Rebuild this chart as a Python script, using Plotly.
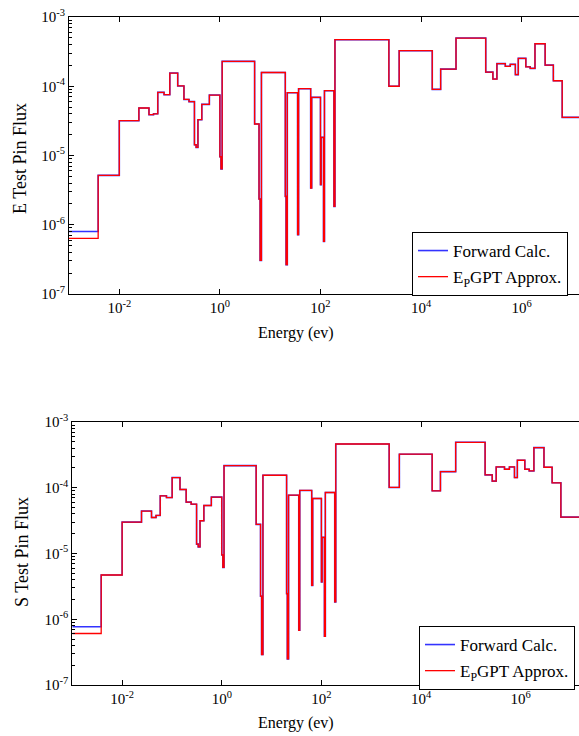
import plotly.graph_objects as go

# Energy group boundaries (eV)
energy_bounds = [1e-3, 3.8e-3, 1e-2, 0.0245, 0.0389, 0.0479, 0.0582, 0.0776, 0.101, 0.145,
                 0.193, 0.243, 0.312, 0.337, 0.366, 0.437, 0.618, 1.0, 1.05, 1.11,
                 4.9, 6.0, 6.3, 6.7, 20.0, 20.7, 21.9, 35.1, 36.7, 63.8,
                 66.8, 100, 103, 115, 120, 185, 194, 2290, 3670, 16700,
                 24500, 49500, 1.93e5, 2.68e5, 3.22e5, 4.73e5, 5.93e5, 7.5e5, 8.57e5, 1.21e6,
                 1.48e6, 1.84e6, 2.93e6, 4.27e6, 6.4e6, 2e7]

# E test pin flux per group
e_forward = [8.0e-7, 5.16e-6, 3.18e-5, 4.85e-5, 3.88e-5, 4.0e-5, 8.15e-5, 7.55e-5, 1.55e-4, 1.01e-4,
             6.45e-5, 6.0e-5, 1.43e-5, 1.31e-5, 3.29e-5, 5.47e-5, 7.46e-5, 9.6e-6, 6.4e-6, 2.29e-4,
             2.85e-5, 2.35e-6, 3.06e-7, 1.58e-4, 2.57e-6, 2.65e-7, 8.07e-5, 7.2e-7, 9.22e-5, 3.39e-6,
             6.9e-5, 3.79e-6, 1.83e-5, 5.75e-7, 8.63e-5, 1.84e-6, 4.7e-4, 1.0e-4, 3.26e-4, 9.0e-5,
             1.77e-4, 4.97e-4, 1.6e-4, 1.27e-4, 2.12e-4, 1.94e-4, 2.07e-4, 1.47e-4, 2.53e-4, 1.91e-4,
             1.81e-4, 4.11e-4, 2.02e-4, 1.2e-4, 3.55e-5]
e_gpt = [6.35e-7, 5.16e-6, 3.18e-5, 4.85e-5, 3.88e-5, 4.0e-5, 8.15e-5, 7.55e-5, 1.55e-4, 1.01e-4,
         6.45e-5, 6.0e-5, 1.43e-5, 1.31e-5, 3.29e-5, 5.47e-5, 7.46e-5, 9.6e-6, 6.4e-6, 2.29e-4,
         2.85e-5, 2.35e-6, 3.06e-7, 1.58e-4, 2.57e-6, 2.65e-7, 8.07e-5, 7.2e-7, 9.22e-5, 3.39e-6,
         6.9e-5, 3.79e-6, 1.83e-5, 5.75e-7, 8.63e-5, 1.84e-6, 4.7e-4, 1.0e-4, 3.26e-4, 9.0e-5,
         1.77e-4, 4.97e-4, 1.6e-4, 1.27e-4, 2.12e-4, 1.94e-4, 2.07e-4, 1.47e-4, 2.53e-4, 1.91e-4,
         1.81e-4, 4.11e-4, 2.02e-4, 1.2e-4, 3.55e-5]

# S test pin flux per group
s_forward = [7.67e-7, 4.71e-6, 3.0e-5, 4.42e-5, 3.53e-5, 3.79e-5, 7.54e-5, 7.1e-5, 1.43e-4, 9.4e-5,
             6.04e-5, 5.62e-5, 1.39e-5, 1.26e-5, 3.15e-5, 5.37e-5, 7.19e-5, 9.5e-6, 6.15e-6, 2.17e-4,
             2.77e-5, 2.24e-6, 2.91e-7, 1.55e-4, 2.45e-6, 2.5e-7, 7.7e-5, 6.8e-7, 9.1e-5, 3.28e-6,
             6.86e-5, 3.7e-6, 1.76e-5, 5.5e-7, 8.47e-5, 1.84e-6, 4.63e-4, 1.01e-4, 3.24e-4, 8.98e-5,
             1.76e-4, 4.91e-4, 1.57e-4, 1.26e-4, 2.07e-4, 1.91e-4, 2.07e-4, 1.43e-4, 2.62e-4, 1.91e-4,
             1.8e-4, 4.07e-4, 2.05e-4, 1.19e-4, 3.58e-5]
s_gpt = [6.07e-7, 4.71e-6, 3.0e-5, 4.42e-5, 3.53e-5, 3.79e-5, 7.54e-5, 7.1e-5, 1.43e-4, 9.4e-5,
         6.04e-5, 5.62e-5, 1.39e-5, 1.26e-5, 3.15e-5, 5.37e-5, 7.19e-5, 9.5e-6, 6.15e-6, 2.17e-4,
         2.77e-5, 2.24e-6, 2.91e-7, 1.55e-4, 2.45e-6, 2.5e-7, 7.7e-5, 6.8e-7, 9.1e-5, 3.28e-6,
         6.86e-5, 3.7e-6, 1.76e-5, 5.5e-7, 8.47e-5, 1.84e-6, 4.63e-4, 1.01e-4, 3.24e-4, 8.98e-5,
         1.76e-4, 4.91e-4, 1.57e-4, 1.26e-4, 2.07e-4, 1.91e-4, 2.07e-4, 1.43e-4, 2.62e-4, 1.91e-4,
         1.8e-4, 4.07e-4, 2.05e-4, 1.19e-4, 3.58e-5]

x_tickvals = [1e-2, 1e0, 1e2, 1e4, 1e6]
x_ticktext = ["10<sup>-2</sup>", "10<sup>0</sup>", "10<sup>2</sup>", "10<sup>4</sup>", "10<sup>6</sup>"]
y_tickvals = [1e-7, 1e-6, 1e-5, 1e-4, 1e-3]
y_ticktext = ["10<sup>-7</sup>", "10<sup>-6</sup>", "10<sup>-5</sup>", "10<sup>-4</sup>", "10<sup>-3</sup>"]
y_minor = [m * 10.0 ** p for p in range(-7, -3) for m in range(2, 10)]

series_names = ["Forward Calc.", "E<sub>P</sub>GPT Approx."]

FONT = "Liberation Serif, Times New Roman, serif"
W, H = 579, 736
ML, MR, MT, MB = 69, 0, 17, 51
PW, PH = W - ML - MR, H - MT - MB


def px_x(px):
    return (px - ML) / PW


def px_y(py):
    return (H - MB - py) / PH


def steps(vals):
    return list(vals) + [vals[-1]]


fig = go.Figure()
panels = [("x", "y", "legend", e_forward, e_gpt), ("x2", "y2", "legend2", s_forward, s_gpt)]
for xa, ya, lg, fwd, gpt in panels:
    fig.add_trace(go.Scatter(x=energy_bounds, y=steps(fwd), mode="lines", line_shape="hv",
                             line=dict(color="#0000FF", width=1.6), opacity=0.8,
                             name=series_names[0], xaxis=xa, yaxis=ya, legend=lg,
                             legendgroup=lg + "a"))
    fig.add_trace(go.Scatter(x=energy_bounds, y=steps(gpt), mode="lines", line_shape="hv",
                             line=dict(color="#FF0000", width=1.3),
                             name=series_names[1], xaxis=xa, yaxis=ya, legend=lg,
                             legendgroup=lg + "b"))

xcommon = dict(type="log", tickvals=x_tickvals, ticktext=x_ticktext, ticks="inside", ticklen=5,
               tickcolor="black", showline=True, linecolor="black", linewidth=1, mirror="ticks",
               showgrid=False, zeroline=False, tickfont=dict(family=FONT, size=15, color="black"))
ycommon = dict(type="log", range=[-7, -3], tickvals=y_tickvals, ticktext=y_ticktext, ticks="inside",
               ticklen=5, tickcolor="black", showline=True, linecolor="black", linewidth=1,
               mirror=False, showgrid=False, zeroline=False,
               tickfont=dict(family=FONT, size=15, color="black"),
               minor=dict(tickvals=y_minor, ticks="inside", ticklen=3, tickcolor="black", showgrid=False))

top_dom = [px_y(294), 1.0]
bot_dom = [0.0, px_y(422)]

legend_common = dict(bgcolor="white", bordercolor="black", borderwidth=1,
                     font=dict(family=FONT, size=17, color="black"), xanchor="left", yanchor="top",
                     traceorder="grouped", tracegroupgap=1)

ann_font = dict(family=FONT, size=16, color="black")
ylab_font = dict(family=FONT, size=18, color="black")

fig.update_layout(
    width=W, height=H, margin=dict(l=ML, r=MR, t=MT, b=MB),
    paper_bgcolor="white", plot_bgcolor="white",
    xaxis=dict(xcommon, range=[-3, 7.14], domain=[0, 1], anchor="y"),
    yaxis=dict(ycommon, domain=top_dom, anchor="x"),
    xaxis2=dict(xcommon, range=[-3, 7.17], domain=[px_x(72.3), 1], anchor="y2"),
    yaxis2=dict(ycommon, domain=bot_dom, anchor="x2"),
    legend=dict(legend_common, x=px_x(412), y=px_y(232)),
    legend2=dict(legend_common, x=px_x(419), y=px_y(626)),
    showlegend=True,
    annotations=[
        dict(text="E Test Pin Flux", xref="paper", yref="paper", x=px_x(20), y=px_y(159),
             xanchor="center", yanchor="middle", textangle=-90, showarrow=False, font=ylab_font),
        dict(text="Energy (ev)", xref="paper", yref="paper", x=px_x(296), y=px_y(333),
             xanchor="center", yanchor="middle", showarrow=False, font=ann_font),
        dict(text="S Test Pin Flux", xref="paper", yref="paper", x=px_x(22), y=px_y(552),
             xanchor="center", yanchor="middle", textangle=-90, showarrow=False, font=ylab_font),
        dict(text="Energy (ev)", xref="paper", yref="paper", x=px_x(296), y=px_y(723),
             xanchor="center", yanchor="middle", showarrow=False, font=ann_font),
    ],
)

fig.write_html("out.html")
